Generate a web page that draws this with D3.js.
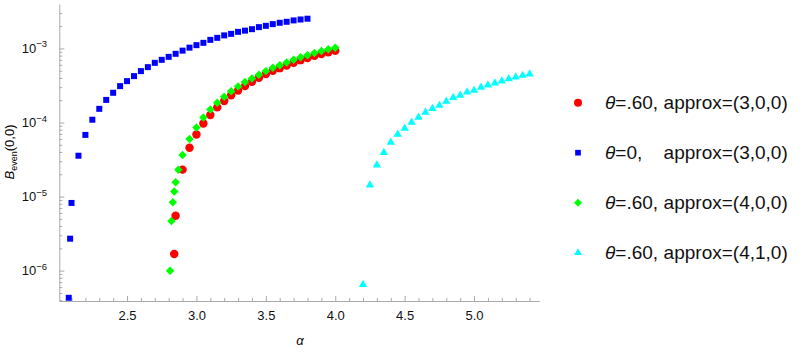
<!DOCTYPE html>
<html>
<head>
<meta charset="utf-8">
<script src="https://cdn.jsdelivr.net/npm/d3@7"></script>
<style>
  body { margin: 0; background: #fff; }
  svg { display: block; font-family: "Liberation Sans", Arial, sans-serif; }
</style>
</head>
<body>
<svg width="803" height="353"></svg>
<script>
// data (alpha, B_even(0,0))
var alphaRed300 = [2.84, 2.85, 2.90, 2.95, 3.00, 3.05, 3.10, 3.15, 3.20, 3.25, 3.30, 3.35, 3.40, 3.45, 3.50, 3.55, 3.60, 3.65, 3.70, 3.75, 3.80, 3.85, 3.90, 3.95, 4.00]
var valRed300 = [1.68e-6, 5.5e-6, 2.31e-5, 4.56e-5, 6.9e-5, 9.7e-5, 1.26e-4, 1.60e-4, 1.95e-4, 2.34e-4, 2.71e-4, 3.10e-4, 3.54e-4, 4.01e-4, 4.50e-4, 4.98e-4, 5.42e-4, 5.90e-4, 6.39e-4, 6.95e-4, 7.44e-4, 7.97e-4, 8.43e-4, 8.86e-4, 9.28e-4]

var alphaBlue = [2.08, 2.09, 2.10, 2.15, 2.20, 2.25, 2.30, 2.35, 2.40, 2.45, 2.50, 2.55, 2.60, 2.65, 2.70, 2.75, 2.80, 2.85, 2.90, 2.95, 3.00, 3.05, 3.10, 3.15, 3.20, 3.25, 3.30, 3.35, 3.40, 3.45, 3.50, 3.55, 3.60, 3.65, 3.70, 3.75, 3.80]
var valBlue = [4.3e-7, 2.7e-6, 8.2e-6, 3.56e-5, 6.8e-5, 1.09e-4, 1.53e-4, 2.02e-4, 2.52e-4, 3.10e-4, 3.62e-4, 4.23e-4, 4.94e-4, 5.59e-4, 6.39e-4, 7.02e-4, 7.70e-4, 8.46e-4, 9.34e-4, 1.025e-3, 1.108e-3, 1.19e-3, 1.306e-3, 1.39e-3, 1.50e-3, 1.574e-3, 1.675e-3, 1.74e-3, 1.82e-3, 1.94e-3, 2.02e-3, 2.13e-3, 2.22e-3, 2.29e-3, 2.39e-3, 2.46e-3, 2.52e-3]

var alphaGreen = [2.81, 2.82, 2.83, 2.84, 2.85, 2.87, 2.90, 2.95, 3.00, 3.05, 3.10, 3.15, 3.20, 3.25, 3.30, 3.35, 3.40, 3.45, 3.50, 3.55, 3.60, 3.65, 3.70, 3.75, 3.80, 3.85, 3.90, 3.95, 4.00]
var valGreen = [1.0e-6, 4.67e-6, 8.35e-6, 1.175e-5, 1.555e-5, 2.31e-5, 3.63e-5, 5.97e-5, 8.59e-5, 1.172e-4, 1.503e-4, 1.845e-4, 2.22e-4, 2.65e-4, 3.07e-4, 3.51e-4, 3.94e-4, 4.40e-4, 4.94e-4, 5.47e-4, 5.95e-4, 6.47e-4, 7.02e-4, 7.63e-4, 8.12e-4, 8.69e-4, 9.22e-4, 9.72e-4, 1.019e-3]

var alphaCyan = [4.20, 4.25, 4.30, 4.35, 4.40, 4.45, 4.50, 4.55, 4.60, 4.65, 4.70, 4.75, 4.80, 4.85, 4.90, 4.95, 5.00, 5.05, 5.10, 5.15, 5.20, 5.25, 5.30, 5.35, 5.40]
var valCyan = [6.5e-7, 1.43e-5, 2.66e-5, 3.92e-5, 5.39e-5, 6.93e-5, 8.32e-5, 1.006e-4, 1.172e-4, 1.369e-4, 1.54e-4, 1.70e-4, 1.927e-4, 2.17e-4, 2.33e-4, 2.57e-4, 2.71e-4, 2.98e-4, 3.20e-4, 3.40e-4, 3.62e-4, 3.89e-4, 4.10e-4, 4.32e-4, 4.50e-4]

var legendTheta = ["=.60,", "=0,", "=.60,", "=.60,"]
var legendApprox = ["approx=(3,0,0)", "approx=(3,0,0)", "approx=(4,0,0)", "approx=(4,1,0)"]

var xTicks = [2.5, 3.0, 3.5, 4.0, 4.5, 5.0]
var yTicks = [-6, -5, -4, -3]

var svg = d3.select("svg")

var x = d3.scaleLinear().domain([2.012, 5.47]).range([59.3, 539.3])
var y = d3.scaleLog().domain([Math.pow(10, -6.41), Math.pow(10, -2.40)]).range([301, 4])

var axisColor = "#aaaaaa"

////////// AXES //////////
// minor x ticks every 0.1
var xMinor = d3.range(21, 55).map(d => d / 10).filter(d => xTicks.indexOf(d) < 0)
svg.append("g")
  .attr("transform", "translate(0,301)")
  .call(d3.axisBottom(x).tickValues(xMinor).tickSize(-3).tickFormat(""))
  .call(g => g.select(".domain").remove())
  .selectAll("line").attr("stroke", axisColor)

var xAxis = svg.append("g")
  .attr("transform", "translate(0,301)")
  .call(d3.axisBottom(x).tickValues(xTicks).tickSize(-5).tickSizeOuter(0).tickPadding(10).tickFormat(d3.format(".1f")))
xAxis.select(".domain").attr("stroke", axisColor)
xAxis.selectAll("line").attr("stroke", axisColor)
xAxis.selectAll("text").attr("font-size", 13).attr("fill", "#111")
  .attr("font-family", "'Liberation Sans', Arial, sans-serif")

// minor y ticks 2..9 x 10^n
var yMinor = []
for (var e = -7; e <= -3; e++) {
  for (var k = 2; k <= 9; k++) {
    var v = k * Math.pow(10, e)
    if (v >= y.domain()[0] && v <= y.domain()[1]) yMinor.push(v)
  }
}
svg.append("g")
  .attr("transform", "translate(59.3,0)")
  .call(d3.axisLeft(y).tickValues(yMinor).tickSize(-3).tickFormat(""))
  .call(g => g.select(".domain").remove())
  .selectAll("line").attr("stroke", axisColor)

var yAxis = svg.append("g")
  .attr("transform", "translate(59.3,0)")
  .call(d3.axisLeft(y).tickValues(yTicks.map(d => Math.pow(10, d))).tickSize(-5).tickSizeOuter(0).tickFormat(""))
yAxis.select(".domain").attr("stroke", axisColor)
yAxis.selectAll("line").attr("stroke", axisColor)

// y tick labels as 10^n
yTicks.forEach(function (p) {
  var t = svg.append("text")
    .attr("x", 47)
    .attr("y", y(Math.pow(10, p)) + 4.5)
    .attr("text-anchor", "end")
    .attr("font-size", 13)
    .attr("fill", "#111")
  t.append("tspan").text("10")
  t.append("tspan").attr("font-size", 9.5).attr("dy", -5.5).text("\u2212" + (-p))
})

// axis titles
svg.append("text")
  .attr("x", x(3.746))
  .attr("y", 345)
  .attr("text-anchor", "middle")
  .attr("font-size", 13)
  .attr("font-style", "italic")
  .text("\u03b1")

var yl = svg.append("text")
  .attr("transform", "translate(14,152) rotate(-90)")
  .attr("text-anchor", "middle")
  .attr("font-size", 13)
yl.append("tspan").attr("font-style", "italic").text("B")
yl.append("tspan").attr("font-size", 9).attr("dy", 3).text("even")
yl.append("tspan").attr("dy", -3).text("(0,0)")

////////// MARKS //////////
function pts(a, v) { return a.map((d, i) => ({ a: d, v: v[i] })) }

var series = [
  { data: pts(alphaRed300, valRed300), color: "#ff0000", sym: d3.symbolCircle, size: 56 },
  { data: pts(alphaBlue, valBlue), color: "#0000ff", sym: d3.symbolSquare, size: 36 },
  { data: pts(alphaGreen, valGreen), color: "#00ff00", sym: d3.symbolDiamond2, size: 46 },
  { data: pts(alphaCyan, valCyan), color: "#00ffff", sym: d3.symbolTriangle, size: 30 }
]

series.forEach(function (s) {
  svg.append("g").selectAll("path")
    .data(s.data)
    .enter().append("path")
    .attr("d", d3.symbol().type(s.sym).size(s.size))
    .attr("transform", d => "translate(" + x(d.a) + "," + y(d.v) + ")")
    .attr("fill", s.color)
})

////////// LEGEND //////////
var legend = svg.append("g").attr("font-size", 19).attr("fill", "#111")
var approxX = null
series.forEach(function (s, i) {
  var ry = 102.7 + i * 50
  legend.append("path")
    .attr("d", d3.symbol().type(s.sym).size(s.size * 0.9))
    .attr("transform", "translate(578," + ry + ")")
    .attr("fill", s.color)
  var t = legend.append("text").attr("x", 605).attr("y", ry + 6.5)
  t.append("tspan").attr("font-style", "italic").text("\u03b8")
  t.append("tspan").text(legendTheta[i])
  // line up "approx" with the first row, as in the reference
  if (approxX === null) approxX = 605 + t.node().getComputedTextLength() + 5.5
  t.append("tspan").attr("x", approxX).text(legendApprox[i])
})
</script>
</body>
</html>
